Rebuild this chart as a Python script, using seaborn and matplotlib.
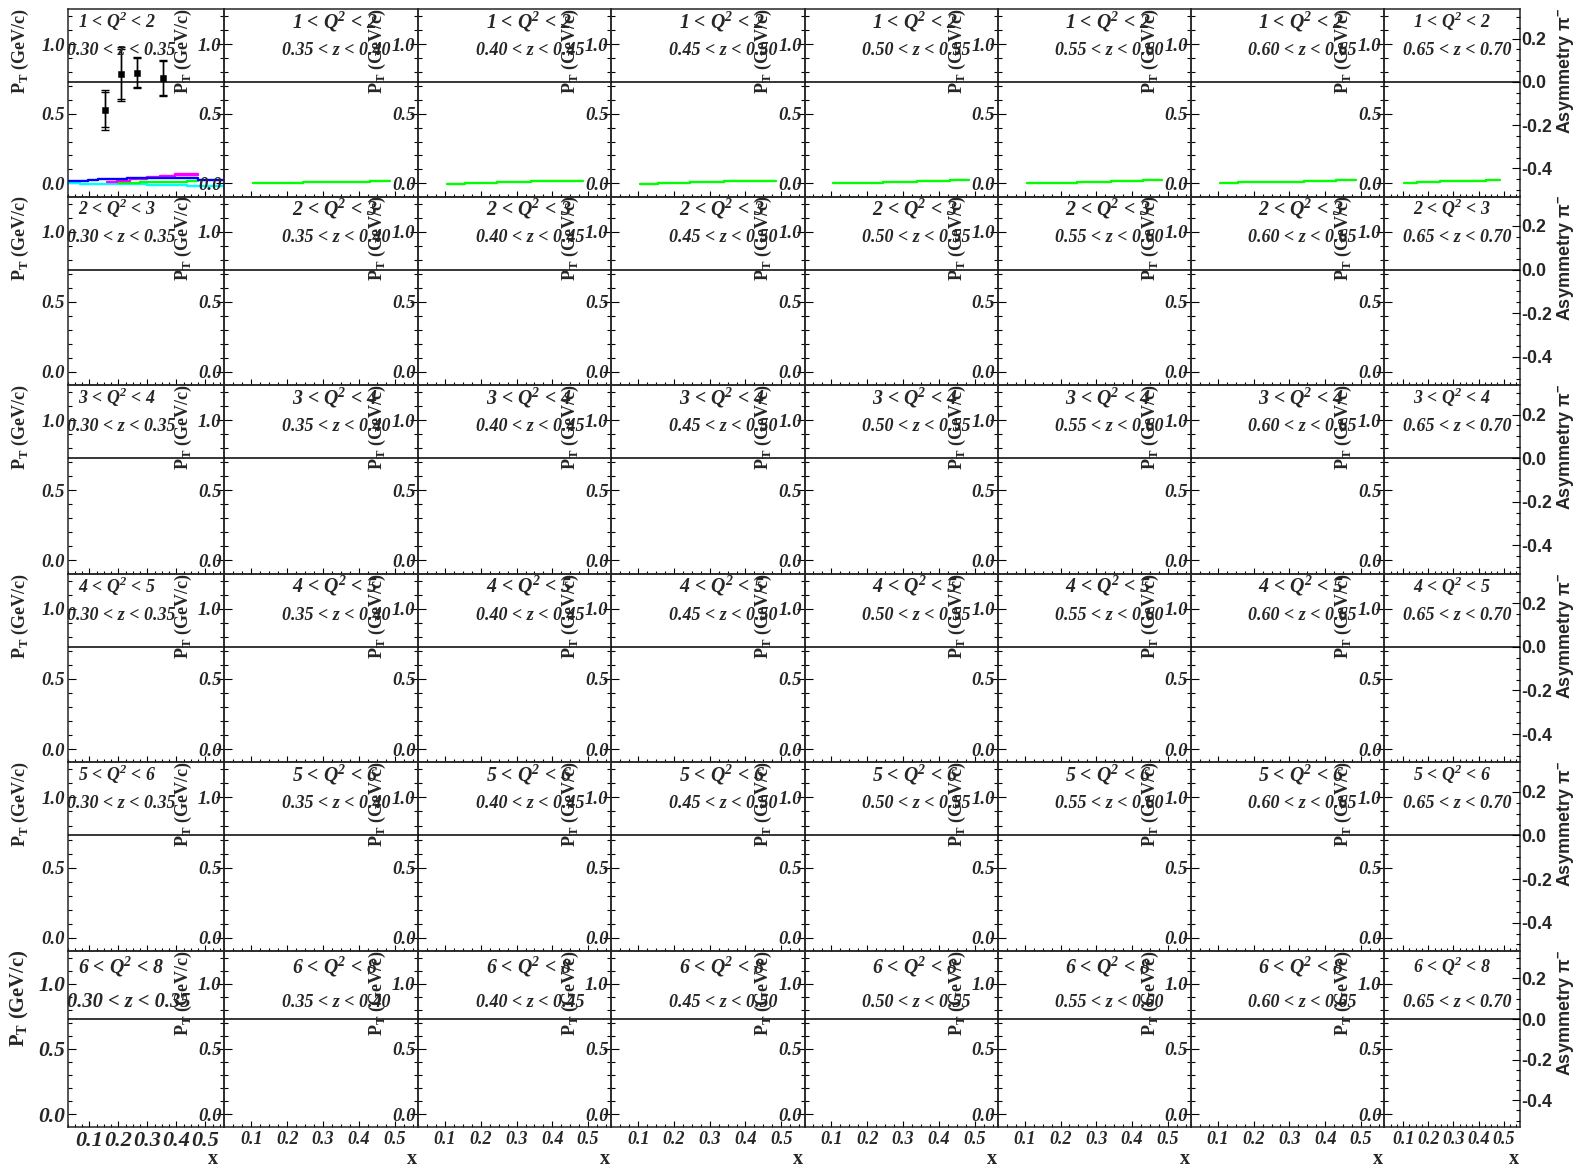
import numpy as np
import pandas as pd
import matplotlib
matplotlib.use("Agg")
import matplotlib.pyplot as plt
import seaborn as sns
from matplotlib.ticker import FixedLocator, MultipleLocator, FuncFormatter
from matplotlib.font_manager import FontProperties

# ---------------- data ----------------
Q2_EDGES = [1, 2, 3, 4, 5, 6, 8]
Z_EDGES = [0.30, 0.35, 0.40, 0.45, 0.50, 0.55, 0.60, 0.65, 0.70]

X_LIM = (0.025, 0.565)
PT_LIM = (-0.095, 1.25)
ASYM_LIM = (-0.53, 0.335)
PT_TICKS = [0.0, 0.5, 1.0]
X_TICKS = [0.1, 0.2, 0.3, 0.4, 0.5]
ASYM_TICKS = [-0.4, -0.2, 0.0, 0.2]

# black points (panel 1<Q2<2, 0.30<z<0.35)
PT_X = [0.155, 0.208, 0.265, 0.352]
PT_Y = [0.527, 0.784, 0.794, 0.755]
ERR_STAT = [0.126, 0.180, 0.103, 0.123]
ERR_TOT = [0.144, 0.194, 0.110, 0.130]

# step curves in first panel
CYAN_EDGES = [0.025, 0.067, 0.297, 0.435, 0.565]
CYAN_VALS = [0.005, -0.003, -0.012, -0.019]
BLUE_EDGES = [0.025, 0.096, 0.131, 0.228, 0.343, 0.475, 0.565]
BLUE_VALS = [0.017, 0.024, 0.031, 0.036, 0.038, 0.024]
MAGENTA_EDGES = [0.159, 0.194, 0.240, 0.297, 0.343, 0.395, 0.475]
MAGENTA_VALS = [0.007, 0.017, 0.030, 0.048, 0.055, 0.067]
MAGENTA2_EDGES = [0.395, 0.475]
MAGENTA2_VALS = [0.057]
GREEN0_EDGES = [0.200, 0.274, 0.343, 0.435, 0.475]
GREEN0_VALS = [0.000, 0.007, 0.012, 0.019]

# green step curves in the other panels of the first Q2 row
GREEN_EDGES = [0.105, 0.155, 0.245, 0.340, 0.430, 0.485]
GREEN_VALS = [
    [0.000, 0.000, 0.007, 0.012, 0.019],
    [-0.003, 0.004, 0.009, 0.017, 0.017],
    [-0.002, 0.004, 0.010, 0.015, 0.018],
    [0.000, 0.005, 0.010, 0.015, 0.020],
    [0.000, 0.005, 0.010, 0.016, 0.021],
    [0.002, 0.007, 0.012, 0.018, 0.022],
    [0.004, 0.012, 0.019, 0.019, 0.026],
]

# ---------------- layout ----------------
W, H = 1596, 1172
COL_X = [67.7, 224.3, 418.3, 611.3, 804.5, 998.0, 1191.0, 1384.3, 1520.0]
ROW_Y = [9.3, 196.5, 385.1, 573.8, 762.4, 951.0, 1126.7]

sns.set_style("ticks")
plt.rcParams["font.family"] = ["Liberation Serif", "DejaVu Sans"]
plt.rcParams["axes.linewidth"] = 1.1

fig = plt.figure(figsize=(W / 100, H / 100), dpi=100)
fig.patch.set_facecolor("white")


def fx(x):
    return x / W


def fy(y):
    return 1 - y / H


def fp(size, family="Liberation Serif", weight="bold", style="italic"):
    return FontProperties(family=family, weight=weight, style=style, size=size)


def steps(ax, edges, vals, color):
    df = pd.DataFrame({"x": edges, "y": list(vals) + [vals[-1]]})
    sns.lineplot(data=df, x="x", y="y", ax=ax, color=color, lw=1.7,
                 drawstyle="steps-post", estimator=None, sort=False,
                 legend=False)


asym_fmt = FuncFormatter(lambda v, p: f"{v:.1f}")

for r in range(6):
    for c in range(8):
        x0, x1 = COL_X[c], COL_X[c + 1]
        y0, y1 = ROW_Y[r], ROW_Y[r + 1]
        ax = fig.add_axes([fx(x0), fy(y1), (x1 - x0) / W, (y1 - y0) / H])
        ax.set_facecolor("none")
        big = (r == 5 and c == 0)

        # data
        if r == 0 and c == 0:
            steps(ax, CYAN_EDGES, CYAN_VALS, "#00ffff")
            steps(ax, GREEN0_EDGES, GREEN0_VALS, "#00ff00")
            steps(ax, MAGENTA_EDGES, MAGENTA_VALS, "#ff00ff")
            steps(ax, MAGENTA2_EDGES, MAGENTA2_VALS, "#ff00ff")
            steps(ax, BLUE_EDGES, BLUE_VALS, "#0000ff")
            ax.errorbar(PT_X, PT_Y, yerr=ERR_TOT, fmt="none", ecolor="black",
                        elinewidth=1.0, capsize=3.2, capthick=1.0, zorder=4)
            ax.errorbar(PT_X, PT_Y, yerr=ERR_STAT, fmt="none", ecolor="black",
                        elinewidth=1.0, capsize=3.2, capthick=1.0, zorder=4)
            sns.scatterplot(x=PT_X, y=PT_Y, ax=ax, marker="s", s=22,
                            color="black", edgecolor="black", zorder=5,
                            legend=False)
        elif r == 0:
            steps(ax, GREEN_EDGES, GREEN_VALS[c - 1], "#00ff00")

        ax.set_xlabel("")
        ax.set_ylabel("")
        ax.set_xlim(X_LIM)
        ax.set_ylim(PT_LIM)

        twin = ax.twinx()
        twin.set_ylim(ASYM_LIM)
        twin.axhline(0.0, color="black", lw=1.1, zorder=3)
        for sp in twin.spines.values():
            sp.set_visible(False)

        ax.xaxis.set_major_locator(FixedLocator(X_TICKS))
        ax.xaxis.set_minor_locator(MultipleLocator(0.025))
        ax.yaxis.set_major_locator(FixedLocator(PT_TICKS))
        ax.yaxis.set_minor_locator(MultipleLocator(0.1))
        ax.xaxis.set_major_formatter(FuncFormatter(lambda v, p: f"{v:.1f}"))
        ax.yaxis.set_major_formatter(FuncFormatter(lambda v, p: f"{v:.1f}"))
        ax.tick_params(axis="both", which="both", direction="in",
                       top=False, bottom=True, left=True, right=(c < 7),
                       color="black", width=0.8)
        ax.tick_params(axis="y", which="major", length=5.5, pad=2)
        ax.tick_params(axis="y", which="minor", length=3)
        ax.tick_params(axis="x", which="major", length=4.5, pad=3)
        ax.tick_params(axis="x", which="minor", length=2.5)
        ax.tick_params(labelbottom=(r == 5), labelleft=True,
                       labelright=False, labeltop=False)
        ysz = 15.5 if big else 13.5
        xsz = 16.0 if big else 13.0
        for lbl in ax.get_yticklabels():
            lbl.set_fontproperties(fp(ysz))
        for lbl in ax.get_xticklabels():
            lbl.set_fontproperties(fp(xsz))

        if c == 7:
            twin.yaxis.set_major_locator(FixedLocator(ASYM_TICKS))
            twin.yaxis.set_minor_locator(MultipleLocator(0.05))
            twin.yaxis.set_major_formatter(asym_fmt)
            twin.tick_params(axis="y", which="both", direction="in",
                             right=True, left=False, color="black", width=0.8)
            twin.tick_params(axis="y", which="major", length=5.5, pad=1)
            twin.tick_params(axis="y", which="minor", length=3)
            for lbl in twin.get_yticklabels():
                lbl.set_fontproperties(fp(12.8, "Liberation Sans", "bold", "normal"))
            fig.text(fx(1566), fy(y0 - 1), "Asymmetry \u03c0$^\\mathregular{-}$",
                     rotation=90, ha="center", va="top",
                     fontproperties=fp(13.0, "Liberation Sans", "bold", "normal"))
        else:
            twin.set_yticks([])
            twin.tick_params(axis="y", which="both", right=False, left=False)

        # y title
        if c == 0:
            lx = 19 if big else 20
        else:
            lx = x0 - 41
        fig.text(fx(lx), fy(y0 - 1), "P$_\\mathregular{T}$ (GeV/c)",
                 rotation=90, ha="center", va="top",
                 fontproperties=fp(14.8 if big else 13, style="normal"))

        # panel text
        qtxt = f"{Q2_EDGES[r]} < Q$^\\mathregular{{2}}$ < {Q2_EDGES[r + 1]}"
        ztxt = f"{Z_EDGES[c]:.2f} < z < {Z_EDGES[c + 1]:.2f}"
        if c == 0:
            qdx, zdx, qsz = 10.6, -1.0, 12.9
        elif c == 7:
            qdx, zdx, qsz = 28.4, 18.7, 12.9
        else:
            qdx, zdx, qsz = 67.3, 57.3, 14.3
        zsz = 13.0
        if big:
            qsz, zsz = 14.3, 14.8
        if r == 5:
            qb, zb = 22.3, 55.7
        else:
            qb, zb = 19.0, 45.7
        fig.text(fx(x0 + qdx), fy(y0 + qb), qtxt, ha="left", va="baseline",
                 fontproperties=fp(qsz))
        fig.text(fx(x0 + zdx), fy(y0 + zb), ztxt, ha="left", va="baseline",
                 fontproperties=fp(zsz))

        if r == 5:
            fig.text(fx(x1 - (6 if c == 0 else 1)), fy(1159), "x",
                     ha="right", va="center",
                     fontproperties=fp(14.5, style="normal"))

fig.savefig("out.png", dpi=100, facecolor="white")
